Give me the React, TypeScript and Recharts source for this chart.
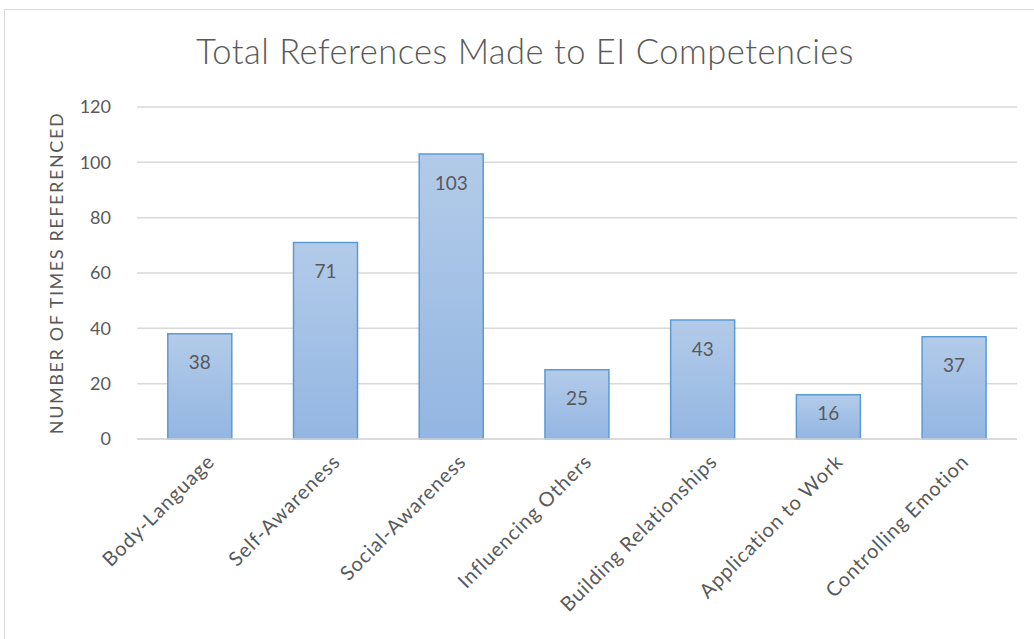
import React from "react";
import {
  BarChart,
  Bar,
  XAxis,
  YAxis,
  CartesianGrid,
  LabelList,
} from "recharts";

const competencies = [
  "Body-Language",
  "Self-Awareness",
  "Social-Awareness",
  "Influencing Others",
  "Building Relationships",
  "Application to Work",
  "Controlling Emotion",
];
const references = [38, 71, 103, 25, 43, 16, 37];
const yTicks = [0, 20, 40, 60, 80, 100, 120];

const data = competencies.map((name, i) => ({ name, value: references[i] }));

const FONT = "Lato, 'Open Sans', sans-serif";
const TEXT = "#595959";

const RotatedTick = (props: any) => {
  const { x, y, payload } = props;
  const ax = x + 6;
  const ay = y + 6;
  return (
    <text
      x={ax}
      y={ay}
      transform={`rotate(-45, ${ax}, ${ay})`}
      textAnchor="end"
      fill={TEXT}
      fontSize={20}
      letterSpacing={0.9}
      fontFamily={FONT}
      dy="0.7em"
    >
      {payload.value}
    </text>
  );
};

// value label near the top of the bar, pulled up for short bars
const BarValue = (props: any) => {
  const { x, y, width, height, value } = props;
  const drop = Math.min(28, height / 2 - 4);
  return (
    <text
      x={x + width / 2}
      y={y + drop}
      textAnchor="middle"
      dominantBaseline="central"
      fill={TEXT}
      fontSize={19}
      fontFamily={FONT}
    >
      {value}
    </text>
  );
};

const App: React.FC = () => {
  return (
    <div
      style={{
        position: "absolute",
        left: 0,
        top: 0,
        width: 1034,
        height: 639,
        background: "#fff",
      }}
    >
      {/* chart frame */}
      <div
        style={{
          position: "absolute",
          left: 4,
          top: 9,
          width: 1040,
          height: 640,
          border: "1px solid #d9d9d9",
          boxSizing: "border-box",
        }}
      />
      <div
        style={{
          position: "absolute",
          left: 0,
          top: 30,
          width: 1050,
          textAlign: "center",
          fontFamily: FONT,
          fontSize: 34.5,
          fontWeight: 300,
          letterSpacing: 0.5,
          color: TEXT,
        }}
      >
        Total References Made to EI Competencies
      </div>
      <div style={{ position: "absolute", left: 0, top: 0 }}>
        <BarChart
          width={1034}
          height={639}
          data={data}
          margin={{ top: 107, right: 17, bottom: 0, left: 57 }}
          barCategoryGap="24.5%"
        >
          <CartesianGrid vertical={false} stroke="#d9d9d9" strokeWidth={1.5} />
          <XAxis
            dataKey="name"
            axisLine={{ stroke: "#d9d9d9", strokeWidth: 1.5 }}
            tickLine={false}
            interval={0}
            tick={<RotatedTick />}
            height={200}
          />
          <YAxis
            domain={[0, 120]}
            ticks={yTicks}
            interval={0}
            axisLine={false}
            tickLine={false}
            width={80}
            tickMargin={20}
            tick={{ fill: TEXT, fontSize: 18, fontFamily: FONT }}
            label={{
              value: "NUMBER OF TIMES REFERENCED",
              angle: -90,
              position: "insideLeft",
              offset: 0,
              style: {
                textAnchor: "middle",
                fill: TEXT,
                fontSize: 18,
                letterSpacing: 1.6,
                fontFamily: FONT,
              },
            }}
          />
          <defs>
            <linearGradient id="barFill" x1="0" y1="0" x2="0" y2="1">
              <stop offset="0%" stopColor="#b3cbe9" />
              <stop offset="100%" stopColor="#93b6e2" />
            </linearGradient>
          </defs>
          <Bar
            dataKey="value"
            fill="url(#barFill)"
            stroke="#5b9bd5"
            strokeWidth={1.5}
            isAnimationActive={false}
          >
            <LabelList dataKey="value" content={<BarValue />} />
          </Bar>
        </BarChart>
      </div>
    </div>
  );
};

export default App;
